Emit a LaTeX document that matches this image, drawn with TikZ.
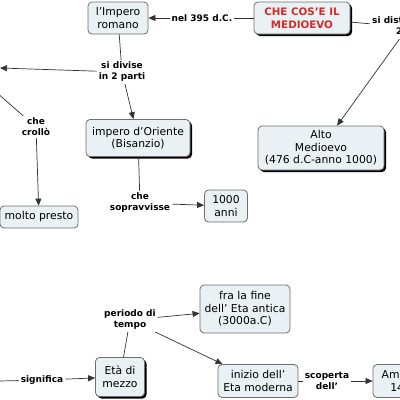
\documentclass[tikz,border=0pt]{standalone}
\usepackage{fontspec}
\setmainfont{DejaVu Sans}
\usetikzlibrary{arrows.meta,shadows}
\definecolor{boxfill}{HTML}{EAF1F4}
\definecolor{boxline}{HTML}{6E6E6E}
\definecolor{titlered}{HTML}{D42A2A}
\definecolor{linegray}{HTML}{333333}
\tikzset{
  concept/.style={draw=boxline, fill=boxfill, rounded corners=4pt, align=center,
    font=\fontsize{10.8}{12.6}\selectfont, inner sep=1.5pt, line width=0.8pt},
  shad/.style={drop shadow={shadow xshift=2pt, shadow yshift=-2pt, fill=black, opacity=1}},
  lab/.style={font=\bfseries\fontsize{9}{11}\selectfont, align=center, inner sep=2pt},
  conn/.style={draw=linegray, line width=0.7pt},
  arr/.style={conn, -{Triangle[length=7pt,width=6pt]}}
}
\begin{document}
\begin{tikzpicture}[x=1pt,y=-1pt]
\clip (0,0) rectangle (400,400);
\fill[white] (0,0) rectangle (400,400);
% concepts
\node[concept, minimum width=60pt, minimum height=32pt] (imp) at (118,18) {l'Impero\\romano};
\node[concept, shad, minimum width=96pt, minimum height=32pt, text=titlered,
      font=\bfseries\fontsize{10.3}{12.5}\selectfont] (che) at (302,18) {CHE COS'E IL\\MEDIOEVO};
\node[concept, shad, minimum width=126pt, minimum height=44pt] (alto) at (321,148) {Alto\\Medioevo\\(476 d.C-anno 1000)};
\node[concept, shad, minimum width=104pt, minimum height=37pt] (ori) at (138,138) {impero d'Oriente\\(Bisanzio)};
\node[concept, minimum width=78pt, minimum height=22pt] (molto) at (39,217) {molto presto};
\node[concept, minimum width=43pt, minimum height=32pt] (mille) at (226,206) {1000\\anni};
\node[concept, minimum width=90pt, minimum height=48pt] (fra) at (245,309) {fra la fine\\dell' Eta antica\\(3000a.C)};
\node[concept, shad, minimum width=49pt, minimum height=39pt] (eta) at (120,377) {Età di\\mezzo};
\node[concept, minimum width=80pt, minimum height=33pt] (ini) at (258,381) {inizio dell'\\Eta moderna};
\node[concept, minimum width=62pt, minimum height=33pt] (ame) at (404,381) {America\\1492};
% linking phrases
\node[lab] (nel) at (202,18) {nel 395 d.C.};
\node[lab, anchor=west] (sid) at (370,27) {si distingue in\\\hspace*{10pt}2 parti};
\node[lab] (div) at (122,72) {si divise\\in 2 parti};
\node[lab] (crollo) at (36,127) {che\\crollò};
\node[lab] (sopr) at (140,203) {che\\sopravvisse};
\node[lab] (per) at (130,320) {periodo di\\tempo};
\node[lab] (scop) at (327,381) {scoperta\\dell'};
\node[lab] (sig) at (42,380) {significa};
% free ends
\coordinate (west1) at (0,68);
\coordinate (west2) at (-4,92);
\coordinate (west3) at (0,381);
% connectors
\draw[conn] (che) -- (nel);
\draw[arr] (nel) -- (imp);
\draw[conn] (che) -- (sid);
\draw[arr] (sid) -- (alto);
\draw[conn] (imp) -- (div);
\draw[arr] (div) -- (west1);
\draw[arr] (div) -- (ori);
\draw[conn] (west2) -- (crollo);
\draw[arr] (crollo) -- (molto);
\draw[conn] (ori) -- (sopr);
\draw[arr] (sopr) -- (mille);
\draw[arr] (per) -- (fra);
\draw[conn] (per) -- (eta);
\draw[arr] (per) -- (ini);
\draw[conn] (ini) -- (scop);
\draw[arr] (scop) -- (ame);
\draw[conn] (west3) -- (sig);
\draw[arr] (sig) -- (eta);
\end{tikzpicture}
\end{document}
